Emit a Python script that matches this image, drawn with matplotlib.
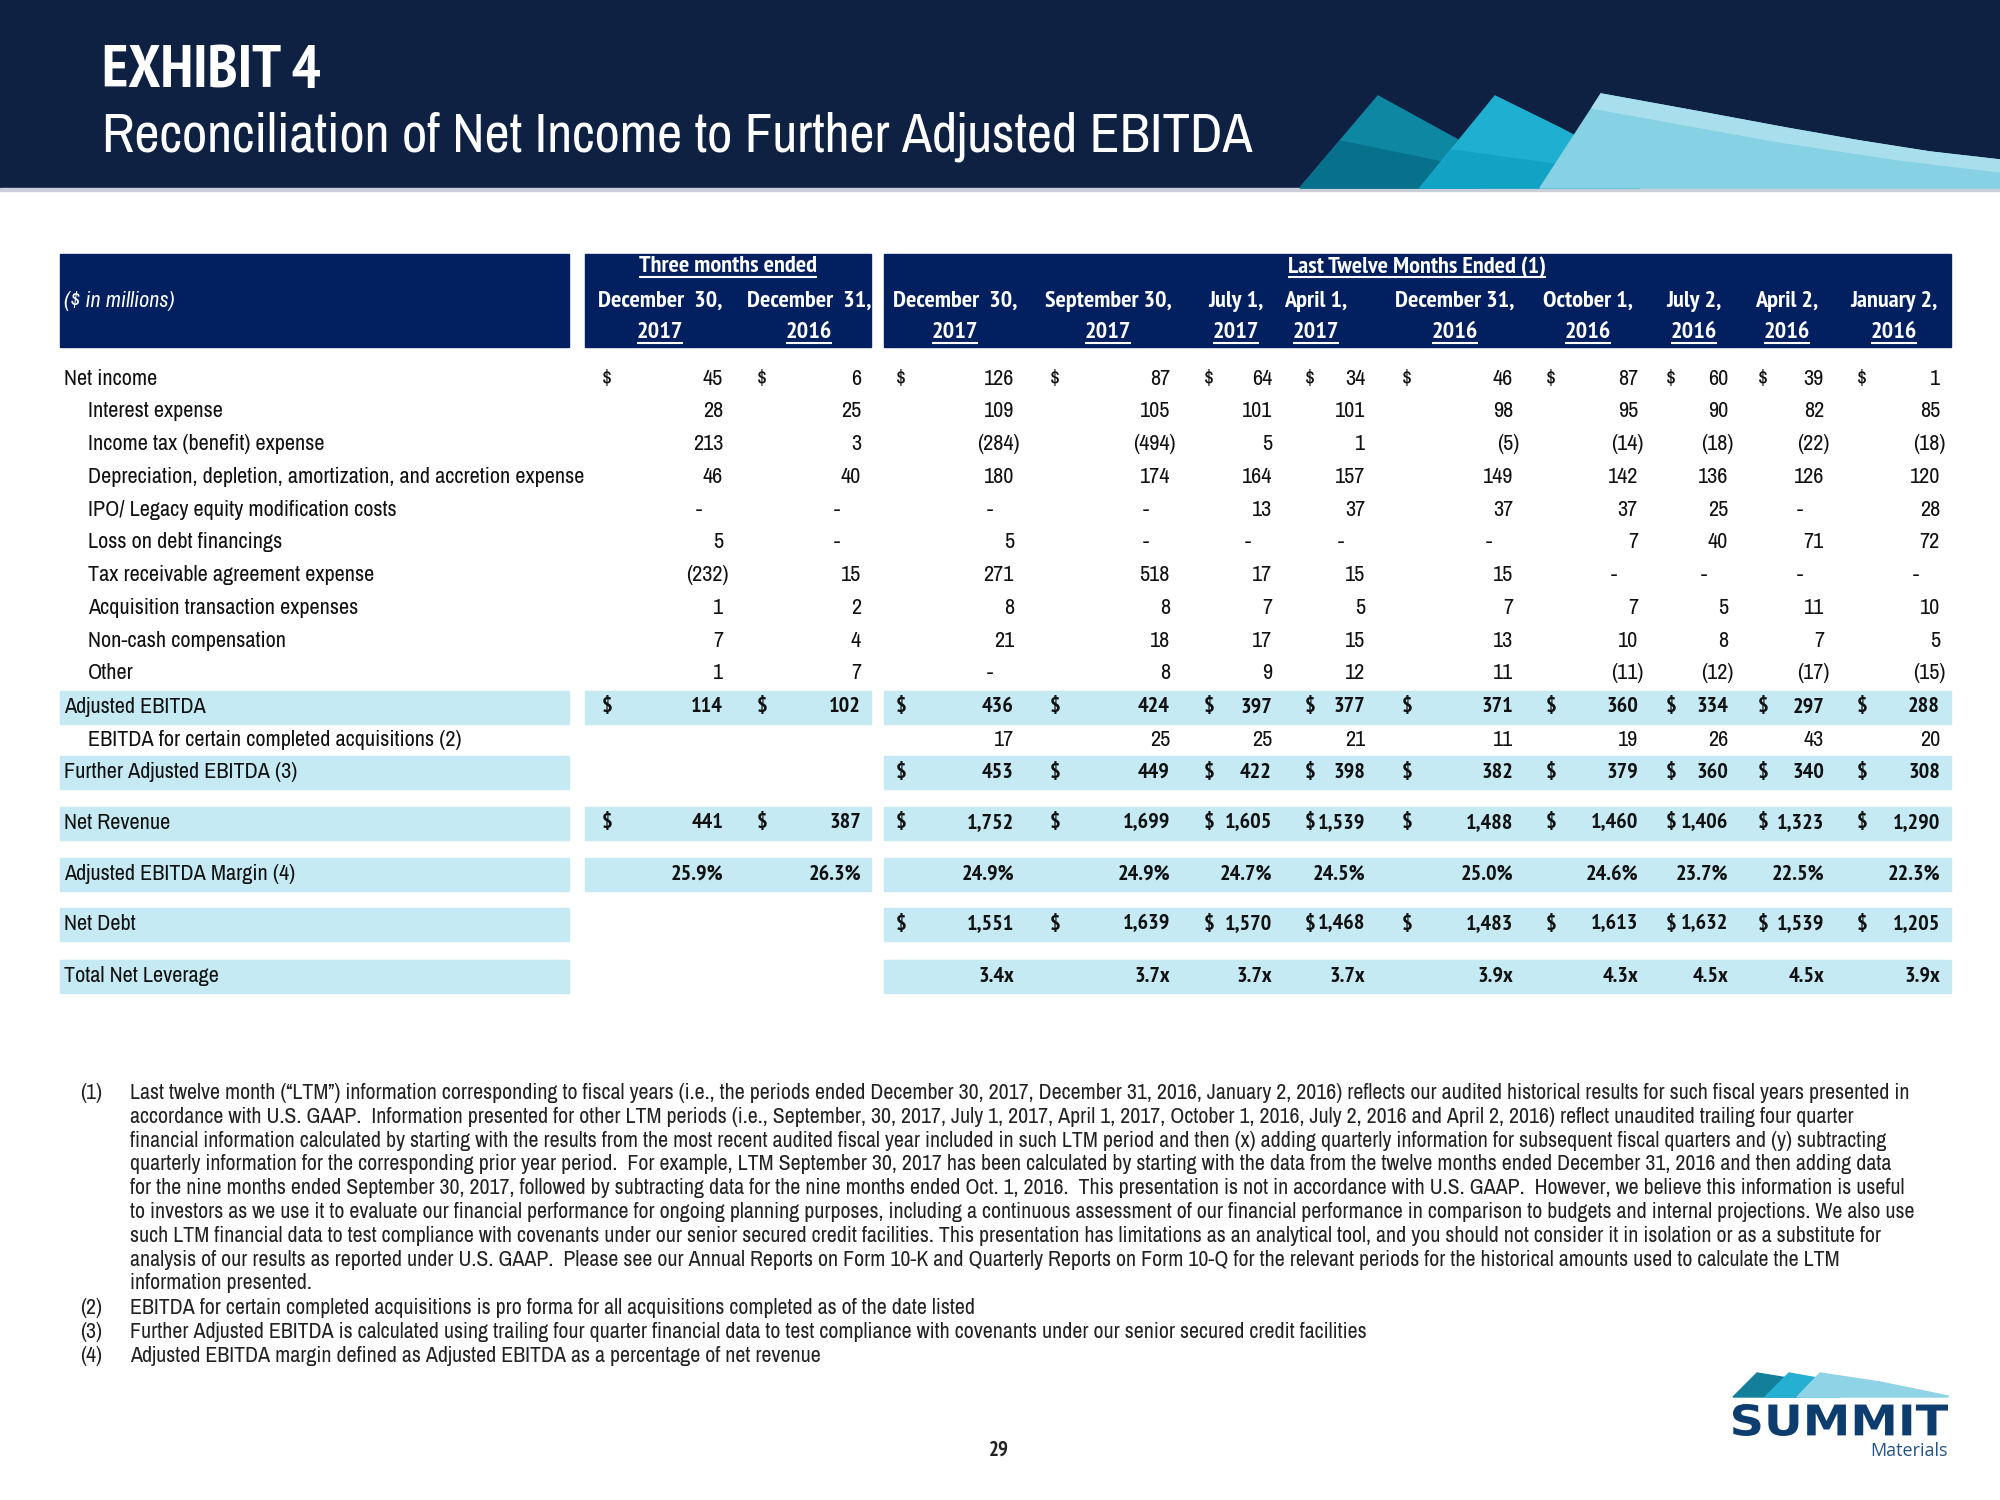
import matplotlib
matplotlib.use("Agg")
import matplotlib.pyplot as plt
from matplotlib import font_manager
from matplotlib.patches import Rectangle, Polygon, PathPatch
from matplotlib.textpath import TextPath
from matplotlib.font_manager import FontProperties
from matplotlib.transforms import Affine2D

# ---- data ----
col_months = ["December  30,", "December  31,", "December  30,", "September 30,", "July 1,",
              "April 1,", "December 31,", "October 1,", "July 2,", "April 2,", "January 2,"]
col_years = ["2017", "2016", "2017", "2017", "2017", "2017", "2016", "2016", "2016", "2016", "2016"]

# None = "-" ; rows that start at the LTM block hold only 9 values
net_income = [45, 6, 126, 87, 64, 34, 46, 87, 60, 39, 1]
interest_expense = [28, 25, 109, 105, 101, 101, 98, 95, 90, 82, 85]
income_tax = [213, 3, -284, -494, 5, 1, -5, -14, -18, -22, -18]
dd_and_a = [46, 40, 180, 174, 164, 157, 149, 142, 136, 126, 120]
ipo_legacy = [None, None, None, None, 13, 37, 37, 37, 25, None, 28]
loss_debt = [5, None, 5, None, None, None, None, 7, 40, 71, 72]
tax_receivable = [-232, 15, 271, 518, 17, 15, 15, None, None, None, None]
acq_expenses = [1, 2, 8, 8, 7, 5, 7, 7, 5, 11, 10]
non_cash_comp = [7, 4, 21, 18, 17, 15, 13, 10, 8, 7, 5]
other = [1, 7, None, 8, 9, 12, 11, -11, -12, -17, -15]
adj_ebitda = [114, 102, 436, 424, 397, 377, 371, 360, 334, 297, 288]
ebitda_acq = [17, 25, 25, 21, 11, 19, 26, 43, 20]
further_adj_ebitda = [453, 449, 422, 398, 382, 379, 360, 340, 308]
net_revenue = [441, 387, 1752, 1699, 1605, 1539, 1488, 1460, 1406, 1323, 1290]
ebitda_margin = [25.9, 26.3, 24.9, 24.9, 24.7, 24.5, 25.0, 24.6, 23.7, 22.5, 22.3]
net_debt = [1551, 1639, 1570, 1468, 1483, 1613, 1632, 1539, 1205]
net_leverage = [3.4, 3.7, 3.7, 3.7, 3.9, 4.3, 4.5, 4.5, 3.9]

footnote_1 = [
    "Last twelve month (\u201cLTM\u201d) information corresponding to fiscal years (i.e., the periods ended December 30, 2017, December 31, 2016, January 2, 2016) reflects our audited historical results for such fiscal years presented in",
    "accordance with U.S. GAAP.  Information presented for other LTM periods (i.e., September, 30, 2017, July 1, 2017, April 1, 2017, October 1, 2016, July 2, 2016 and April 2, 2016) reflect unaudited trailing four quarter",
    "financial information calculated by starting with the results from the most recent audited fiscal year included in such LTM period and then (x) adding quarterly information for subsequent fiscal quarters and (y) subtracting",
    "quarterly information for the corresponding prior year period.  For example, LTM September 30, 2017 has been calculated by starting with the data from the twelve months ended December 31, 2016 and then adding data",
    "for the nine months ended September 30, 2017, followed by subtracting data for the nine months ended Oct. 1, 2016.  This presentation is not in accordance with U.S. GAAP.  However, we believe this information is useful",
    "to investors as we use it to evaluate our financial performance for ongoing planning purposes, including a continuous assessment of our financial performance in comparison to budgets and internal projections. We also use",
    "such LTM financial data to test compliance with covenants under our senior secured credit facilities. This presentation has limitations as an analytical tool, and you should not consider it in isolation or as a substitute for",
    "analysis of our results as reported under U.S. GAAP.  Please see our Annual Reports on Form 10-K and Quarterly Reports on Form 10-Q for the relevant periods for the historical amounts used to calculate the LTM",
    "information presented.",
]
footnote_2 = "EBITDA for certain completed acquisitions is pro forma for all acquisitions completed as of the date listed"
footnote_3 = "Further Adjusted EBITDA is calculated using trailing four quarter financial data to test compliance with covenants under our senior secured credit facilities"
footnote_4 = "Adjusted EBITDA margin defined as Adjusted EBITDA as a percentage of net revenue"

# ---- layout / style ----
names = {f.name for f in font_manager.fontManager.ttflist}
if "Archivo Narrow" in names:
    REG = ["Archivo Narrow", "Liberation Sans", "DejaVu Sans"]
    BLD = (["PT Sans Narrow"] if "PT Sans Narrow" in names else []) + ["Liberation Sans", "DejaVu Sans"]
    fs, hfs, fn_fs, t1, t2 = 16.0, 17.5, 15.8, 44, 39.5
else:
    REG = BLD = ["Liberation Sans", "DejaVu Sans"]
    fs, hfs, fn_fs, t1, t2 = 13.3, 13.3, 13.0, 33, 33
plt.rcParams["font.family"] = REG

NAVY_TOP = "#0f2143"
NAVY_HDR = "#022060"
BAND = "#c6eaf3"
INK = "#111111"

col_center = [660, 809, 955, 1108, 1236, 1316, 1455, 1588, 1694, 1787, 1894]
col_right = [723, 861, 1014, 1170, 1272, 1365, 1513, 1638, 1728, 1824, 1940]
dollar_x = [602, 757, 896, 1050, 1204, 1305, 1402, 1546, 1666, 1758, 1857]

# label, values, first column, kind, bold, dollar, indent, band, row y
rows = [
    ("Net income", net_income, 0, "num", False, True, False, False, 379),
    ("Interest expense", interest_expense, 0, "num", False, False, True, False, 411),
    ("Income tax (benefit) expense", income_tax, 0, "num", False, False, True, False, 444),
    ("Depreciation, depletion, amortization, and accretion expense", dd_and_a, 0, "num", False, False, True, False, 477),
    ("IPO/ Legacy equity modification costs", ipo_legacy, 0, "num", False, False, True, False, 510),
    ("Loss on debt financings", loss_debt, 0, "num", False, False, True, False, 542),
    ("Tax receivable agreement expense", tax_receivable, 0, "num", False, False, True, False, 575),
    ("Acquisition transaction expenses", acq_expenses, 0, "num", False, False, True, False, 608),
    ("Non-cash compensation", non_cash_comp, 0, "num", False, False, True, False, 641),
    ("Other", other, 0, "num", False, False, True, False, 673),
    ("Adjusted EBITDA", adj_ebitda, 0, "num", True, True, False, True, 707),
    ("EBITDA for certain completed acquisitions (2)", ebitda_acq, 2, "num", False, False, True, False, 740),
    ("Further Adjusted EBITDA (3)", further_adj_ebitda, 2, "num", True, True, False, True, 772),
    ("Net Revenue", net_revenue, 0, "num", True, True, False, True, 823),
    ("Adjusted EBITDA Margin (4)", ebitda_margin, 0, "pct", True, False, False, True, 874),
    ("Net Debt", net_debt, 2, "num", True, True, False, True, 924),
    ("Total Net Leverage", net_leverage, 2, "x", True, False, False, True, 976),
]


def fmt(v, kind):
    if kind == "pct":
        return f"{v:.1f}%"
    if kind == "x":
        return f"{v:.1f}x"
    if v < 0:
        return f"({-v:,})"
    return f"{v:,}"


def btext(x, y, s, **kw):
    return ax.text(x, y, s, family=BLD, fontweight="bold", **kw)


fig = plt.figure(figsize=(20, 15), dpi=100)
ax = fig.add_axes([0, 0, 1, 1])
ax.set_xlim(0, 2000)
ax.set_ylim(1500, 0)
ax.axis("off")

# ---- top banner ----
ax.add_patch(Rectangle((0, 0), 2000, 188, color=NAVY_TOP, zorder=0))
ax.add_patch(Rectangle((0, 188), 2000, 3, color="#c9ced8", zorder=0))
ax.add_patch(Polygon([(1300, 188), (1378, 96), (1480, 152), (1480, 188)], color="#0d87a2", zorder=1))
ax.add_patch(Polygon([(1300, 188), (1340, 141), (1480, 170), (1480, 188)], color="#07708a", zorder=1))
ax.add_patch(Polygon([(1420, 188), (1495, 96), (1560, 128), (1640, 170), (1640, 188)], color="#1fb0d1", zorder=2))
ax.add_patch(Polygon([(1420, 188), (1452, 150), (1640, 176), (1640, 188)], color="#12a2c4", zorder=2))
sail = [(1540, 188), (1601, 94), (1700, 112), (1786, 128), (1860, 141), (1930, 152), (2000, 160), (2000, 188)]
ax.add_patch(Polygon(sail, color="#86d1e4", zorder=3))
ax.add_patch(Polygon([(1601, 94), (1700, 112), (1786, 128), (1860, 141), (1930, 152), (2000, 160),
                      (2000, 172), (1900, 160), (1780, 142), (1680, 124), (1592, 108)],
                     color="#a9dfec", zorder=3))

btext(102, 72, "EXHIBIT 4", color="white", fontsize=t1, va="center", ha="left")
ax.text(102, 137, "Reconciliation of Net Income to Further Adjusted EBITDA", color="white",
        fontsize=t2, va="center", ha="left")

# ---- table header ----
ax.add_patch(Rectangle((60, 254), 509, 93, color=NAVY_HDR, zorder=1))
ax.add_patch(Rectangle((585, 254), 286, 93, color=NAVY_HDR, zorder=1))
ax.add_patch(Rectangle((884, 254), 1067, 93, color=NAVY_HDR, zorder=1))
ax.text(64, 301, "($ in millions)", color="white", fontsize=fs, style="italic", va="center", zorder=3)

underlined = []
underlined.append(btext(728, 267, "Three months ended", color="white", fontsize=hfs,
                        ha="center", va="center", zorder=3))
underlined.append(btext(1417, 267, "Last Twelve Months Ended (1)", color="white", fontsize=hfs,
                        ha="center", va="center", zorder=3))
for c, (m, yr) in enumerate(zip(col_months, col_years)):
    btext(col_center[c], 301, m, color="white", fontsize=hfs, ha="center", va="center", zorder=3)
    underlined.append(btext(col_center[c], 333, yr, color="white", fontsize=hfs, ha="center",
                            va="center", zorder=3))

# ---- table body ----
for label, vals, start, kind, bold, dollar, indent, band, y in rows:
    put = btext if bold else ax.text
    if band:
        ax.add_patch(Rectangle((60, y - 16.5), 509, 33, color=BAND, zorder=1))
        if start == 0:
            ax.add_patch(Rectangle((585, y - 16.5), 286, 33, color=BAND, zorder=1))
        ax.add_patch(Rectangle((884, y - 16.5), 1067, 33, color=BAND, zorder=1))
    ax.text(88 if indent else 64, y, label, fontsize=fs, va="center", ha="left", color=INK, zorder=3)
    for j, v in enumerate(vals):
        c = start + j
        if v is None:
            put(col_right[c] - 24, y, "-", fontsize=fs, ha="center", va="center", color=INK, zorder=3)
            continue
        s = fmt(v, kind)
        xr = col_right[c] + (6 if (kind == "num" and v < 0) else 0)
        put(xr, y, s, fontsize=fs, ha="right", va="center", zorder=3, color=INK)
        if dollar:
            put(dollar_x[c], y, "$", fontsize=fs, ha="left", va="center", zorder=3, color=INK)

# ---- footnotes ----
y0, dy = 1093, 23.8
ax.text(80, y0, "(1)", fontsize=fn_fs, va="center", color="#222222")
for i, line in enumerate(footnote_1):
    ax.text(130, y0 + i * dy, line, fontsize=fn_fs, va="center", color="#222222")
for n, (txt, yy) in enumerate([(footnote_2, 1308), (footnote_3, 1332), (footnote_4, 1356)], start=2):
    ax.text(80, yy, f"({n})", fontsize=fn_fs, va="center", color="#222222")
    ax.text(130, yy, txt, fontsize=fn_fs, va="center", color="#222222")

btext(999, 1450, "29", fontsize=15, ha="center", va="center", color="#222222")

# ---- logo ----
ax.add_patch(Polygon([(1733, 1397), (1757, 1373), (1800, 1380), (1800, 1397)], color="#137f98", zorder=2))
ax.add_patch(Polygon([(1765, 1397), (1789, 1373), (1840, 1382), (1840, 1397)], color="#25b0d2", zorder=3))
ax.add_patch(Polygon([(1797, 1397), (1820, 1373), (1880, 1382), (1948, 1396), (1948, 1397)],
                     color="#8fd3e6", zorder=4))
tp = TextPath((0, 0), "SUMMIT", prop=FontProperties(family="DejaVu Sans", weight="bold"), size=100)
bb = tp.get_extents()
sx = (1948 - 1733) / bb.width
sy = 32 / bb.height
tr = Affine2D().translate(-bb.x0, -bb.y0).scale(sx, -sy).translate(1733, 1436)
ax.add_patch(PathPatch(tr.transform_path(tp), color="#0d3c6e", lw=0, zorder=3))
ax.text(1948, 1451, "Materials", fontsize=13, ha="right", va="center", color="#245487",
        family=["Open Sans", "DejaVu Sans"])

# underline header texts
fig.canvas.draw()
inv = ax.transData.inverted()
for t in underlined:
    e = t.get_window_extent()
    (x0, ya), (x1, yb) = inv.transform([[e.x0, e.y0], [e.x1, e.y1]])
    ax.plot([x0, x1], [max(ya, yb) - 1, max(ya, yb) - 1], color="white", lw=1.5, zorder=3,
            solid_capstyle="butt")

fig.savefig("out.png", dpi=100)
